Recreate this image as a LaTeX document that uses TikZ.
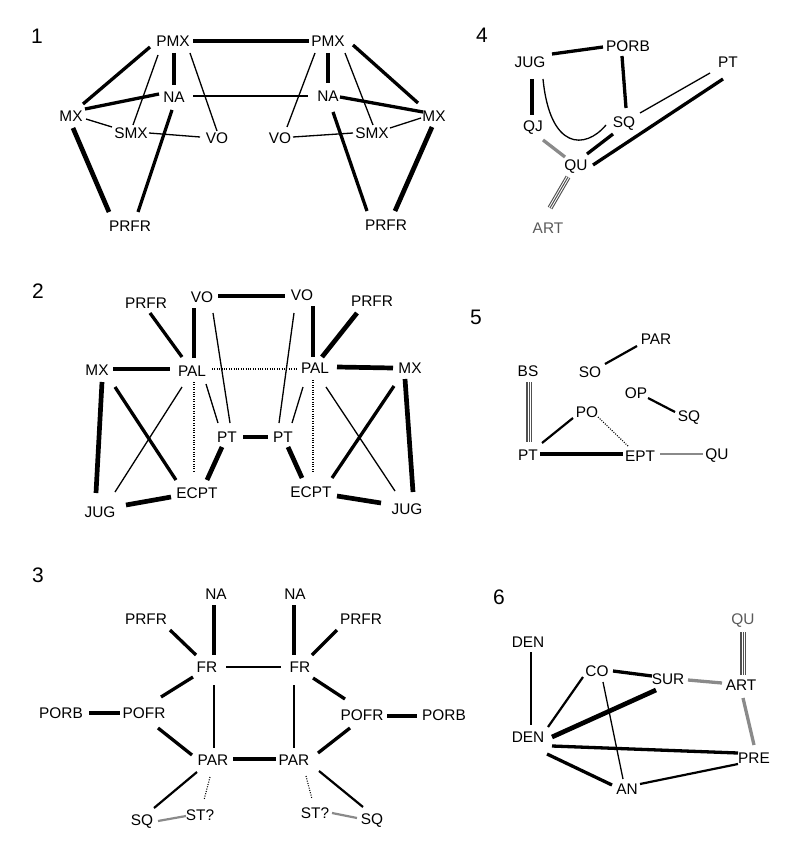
\documentclass[tikz,border=0pt]{standalone}
\usepackage{fontspec}
\setmainfont{Liberation Sans}
\definecolor{edgegray}{HTML}{8A8A8A}
\definecolor{trigray}{HTML}{505050}
\definecolor{txtgray}{HTML}{5A5A5A}
\tikzset{
  lbl/.style={inner sep=3pt, font=\fontsize{15.4}{18}\selectfont},
  num/.style={inner sep=0pt, font=\fontsize{21}{25}\selectfont},
  thin/.style={line width=1.3pt},
  med/.style={line width=2.2pt},
  thick/.style={line width=3.3pt},
  vthick/.style={line width=4.7pt},
  dots/.style={line width=1.1pt, dash pattern=on 1pt off 1.4pt},
  grayline/.style={draw=edgegray, line width=3.3pt},
  graymed/.style={draw=edgegray, line width=2.2pt},
  graythin/.style={draw=edgegray, line width=1.3pt},
  triple/.style={draw=trigray, line width=5.2pt,
    postaction={draw=white, line width=3pt},
    postaction={draw=trigray, line width=1pt}},
}
\begin{document}
\begin{tikzpicture}[x=1pt,y=-1pt]
\useasboundingbox (0,0) rectangle (800,861);
% ---------------- Panel 1
\node[num] (n1) at (37,36) {1};
\node[lbl] (a-pmx1) at (173,41) {PMX};
\node[lbl] (a-pmx2) at (328,41) {PMX};
\node[lbl] (a-na1) at (174,97) {NA};
\node[lbl] (a-na2) at (328,96) {NA};
\node[lbl] (a-mx1) at (71,116) {MX};
\node[lbl] (a-mx2) at (434,116) {MX};
\node[lbl] (a-smx1) at (131,133) {SMX};
\node[lbl] (a-smx2) at (372,133) {SMX};
\node[lbl] (a-vo1) at (217,138) {VO};
\node[lbl] (a-vo2) at (280,138) {VO};
\node[lbl] (a-prfr1) at (130,226) {PRFR};
\node[lbl] (a-prfr2) at (386,225) {PRFR};
\draw[thick] ([shift={(20,0)}]a-pmx1.center) -- ([shift={(-19,0)}]a-pmx2.center);
\draw[thick] ([shift={(-23,6)}]a-pmx1.center) -- ([shift={(12,-12)}]a-mx1.center);
\draw[thick] ([shift={(1,12)}]a-pmx1.center) -- ([shift={(0,-12)}]a-na1.center);
\draw[thin] ([shift={(-15,14)}]a-pmx1.center) -- ([shift={(2,-8)}]a-smx1.center);
\draw[thin] ([shift={(17,12)}]a-pmx1.center) -- ([shift={(0,-7)}]a-vo1.center);
\draw[thin] ([shift={(19,-1)}]a-na1.center) -- ([shift={(-20,0)}]a-na2.center);
\draw[thick] ([shift={(14,-7)}]a-mx1.center) -- ([shift={(-15,-3)}]a-na1.center);
\draw[thin] ([shift={(15,3)}]a-mx1.center) -- ([shift={(-19,-6)}]a-smx1.center);
\draw[thin] ([shift={(18,0)}]a-smx1.center) -- ([shift={(-17,-1)}]a-vo1.center);
\draw[vthick] ([shift={(2,12)}]a-mx1.center) -- ([shift={(-21,-14)}]a-prfr1.center);
\draw[thick] ([shift={(-2,13)}]a-na1.center) -- ([shift={(8,-14)}]a-prfr1.center);
\draw[thick] ([shift={(25,4)}]a-pmx2.center) -- ([shift={(-16,-13)}]a-mx2.center);
\draw[thick] ([shift={(0,12)}]a-pmx2.center) -- ([shift={(0,-13)}]a-na2.center);
\draw[thin] ([shift={(-13,12)}]a-pmx2.center) -- ([shift={(7,-11)}]a-vo2.center);
\draw[thin] ([shift={(17,12)}]a-pmx2.center) -- ([shift={(1,-8)}]a-smx2.center);
\draw[thick] ([shift={(12,1)}]a-na2.center) -- ([shift={(-11,-4)}]a-mx2.center);
\draw[thin] ([shift={(-13,2)}]a-mx2.center) -- ([shift={(18,-5)}]a-smx2.center);
\draw[thin] ([shift={(-19,0)}]a-smx2.center) -- ([shift={(13,-1)}]a-vo2.center);
\draw[thick] ([shift={(5,16)}]a-na2.center) -- ([shift={(-19,-14)}]a-prfr2.center);
\draw[vthick] ([shift={(-2,11)}]a-mx2.center) -- ([shift={(9,-14)}]a-prfr2.center);
% ---------------- Panel 4
\node[num] (n4) at (482,35) {4};
\node[lbl] (d-porb) at (628,46) {PORB};
\node[lbl] (d-jug) at (530,62) {JUG};
\node[lbl] (d-pt) at (728,62) {PT};
\node[lbl] (d-qj) at (533,128) {QJ};
\node[lbl] (d-sq) at (624,124) {SQ};
\node[lbl] (d-qu) at (576,167) {QU};
\node[lbl, text=txtgray] (d-art) at (548,228) {ART};
\draw[thick] ([shift={(22,-8)}]d-jug.center) -- ([shift={(-25,1)}]d-porb.center);
\draw[thick] ([shift={(-6,10)}]d-porb.center) -- ([shift={(2,-16)}]d-sq.center);
\draw[thick] ([shift={(2,17)}]d-jug.center) -- ([shift={(-1,-13)}]d-qj.center);
\draw[thin] ([shift={(13,17)}]d-jug.center) .. controls (550,150) and (585,150) .. ([shift={(-18,1)}]d-sq.center);
\draw[grayline] ([shift={(10,12)}]d-qj.center) -- ([shift={(-11,-10)}]d-qu.center);
\draw[thick] ([shift={(-11,10)}]d-sq.center) -- ([shift={(11,-13)}]d-qu.center);
\draw[thin] ([shift={(16,-11)}]d-sq.center) -- ([shift={(-18,11)}]d-pt.center);
\draw[thick] ([shift={(17,-2)}]d-qu.center) -- ([shift={(-5,17)}]d-pt.center);
\draw[triple] ([shift={(-8,10)}]d-qu.center) -- ([shift={(2,-20)}]d-art.center);
% ---------------- Panel 2
\node[num] (n2) at (38,291) {2};
\node[lbl] (b-vo1) at (202,297) {VO};
\node[lbl] (b-vo2) at (302,295) {VO};
\node[lbl] (b-prfr1) at (146,303) {PRFR};
\node[lbl] (b-prfr2) at (372,301) {PRFR};
\node[lbl] (b-mx1) at (97,370) {MX};
\node[lbl] (b-pal1) at (192,371) {PAL};
\node[lbl] (b-pal2) at (315,368) {PAL};
\node[lbl] (b-mx2) at (410,368) {MX};
\node[lbl] (b-pt1) at (227,437) {PT};
\node[lbl] (b-pt2) at (283,437) {PT};
\node[lbl] (b-ecpt1) at (197,493) {ECPT};
\node[lbl] (b-ecpt2) at (311,492) {ECPT};
\node[lbl] (b-jug1) at (100,512) {JUG};
\node[lbl] (b-jug2) at (407,509) {JUG};
\draw[thick] ([shift={(16,-1)}]b-vo1.center) -- ([shift={(-17,1)}]b-vo2.center);
\draw[thick] ([shift={(4,10)}]b-prfr1.center) -- ([shift={(-10,-14)}]b-pal1.center);
\draw[thick] ([shift={(-8,11)}]b-vo1.center) -- ([shift={(2,-13)}]b-pal1.center);
\draw[vthick] ([shift={(16,-1)}]b-mx1.center) -- ([shift={(-22,-2)}]b-pal1.center);
\draw[dots] ([shift={(20,-2)}]b-pal1.center) -- ([shift={(-17,1)}]b-pal2.center);
\draw[dots] ([shift={(2,11)}]b-pal1.center) -- ([shift={(-3,-20)}]b-ecpt1.center);
\draw[thin] ([shift={(14,13)}]b-pal1.center) -- ([shift={(-9,-14)}]b-pt1.center);
\draw[thin] ([shift={(11,16)}]b-vo1.center) -- ([shift={(3,-14)}]b-pt1.center);
\draw[vthick] ([shift={(5,12)}]b-mx1.center) -- ([shift={(-4,-19)}]b-jug1.center);
\draw[thick] ([shift={(18,17)}]b-mx1.center) -- ([shift={(-21,-13)}]b-ecpt1.center);
\draw[thin] ([shift={(-10,16)}]b-pal1.center) -- ([shift={(15,-20)}]b-jug1.center);
\draw[vthick] ([shift={(26,-7)}]b-jug1.center) -- ([shift={(-26,4)}]b-ecpt1.center);
\draw[vthick] ([shift={(-5,10)}]b-pt1.center) -- ([shift={(10,-13)}]b-ecpt1.center);
\draw[thick] ([shift={(16,0)}]b-pt1.center) -- ([shift={(-15,0)}]b-pt2.center);
\draw[thick] ([shift={(11,11)}]b-vo2.center) -- ([shift={(-2,-11)}]b-pal2.center);
\draw[vthick] ([shift={(-15,12)}]b-prfr2.center) -- ([shift={(7,-11)}]b-pal2.center);
\draw[thin] ([shift={(-8,18)}]b-vo2.center) -- ([shift={(-4,-14)}]b-pt2.center);
\draw[thin] ([shift={(-12,19)}]b-pal2.center) -- ([shift={(9,-14)}]b-pt2.center);
\draw[dots] ([shift={(-2,12)}]b-pal2.center) -- ([shift={(2,-20)}]b-ecpt2.center);
\draw[vthick] ([shift={(22,-1)}]b-pal2.center) -- ([shift={(-17,0)}]b-mx2.center);
\draw[vthick] ([shift={(-5,11)}]b-mx2.center) -- ([shift={(6,-17)}]b-jug2.center);
\draw[thick] ([shift={(-16,18)}]b-mx2.center) -- ([shift={(21,-14)}]b-ecpt2.center);
\draw[thin] ([shift={(11,19)}]b-pal2.center) -- ([shift={(-12,-18)}]b-jug2.center);
\draw[vthick] ([shift={(5,10)}]b-pt2.center) -- ([shift={(-9,-14)}]b-ecpt2.center);
\draw[vthick] ([shift={(26,4)}]b-ecpt2.center) -- ([shift={(-26,-6)}]b-jug2.center);
% ---------------- Panel 5
\node[num] (n5) at (476,317) {5};
\node[lbl] (e-par) at (656,339) {PAR};
\node[lbl] (e-so) at (590,372) {SO};
\node[lbl] (e-bs) at (528,371) {BS};
\node[lbl] (e-op) at (636,393) {OP};
\node[lbl] (e-sq) at (689,418) {SQ};
\node[lbl] (e-po) at (587,412) {PO};
\node[lbl] (e-pt) at (528,455) {PT};
\node[lbl] (e-ept) at (640,456) {EPT};
\node[lbl] (e-qu) at (717,456) {QU};
\draw[med] ([shift={(15,-8)}]e-so.center) -- ([shift={(-19,7)}]e-par.center);
\draw[med] ([shift={(12,5)}]e-op.center) -- ([shift={(-14,-6)}]e-sq.center);
\draw[triple] ([shift={(1,11)}]e-bs.center) -- ([shift={(1,-13)}]e-pt.center);
\draw[med] ([shift={(14,-12)}]e-pt.center) -- ([shift={(-14,6)}]e-po.center);
\draw[dots] ([shift={(11,5)}]e-po.center) -- ([shift={(-12,-10)}]e-ept.center);
\draw[thick] ([shift={(12,-1)}]e-pt.center) -- ([shift={(-17,-2)}]e-ept.center);
\draw[graythin] ([shift={(20,-2)}]e-ept.center) -- ([shift={(-14,-2)}]e-qu.center);
% ---------------- Panel 3
\node[num] (n3) at (38,575) {3};
\node[lbl] (c-na1) at (216,594) {NA};
\node[lbl] (c-na2) at (295,594) {NA};
\node[lbl] (c-prfr1) at (146,619) {PRFR};
\node[lbl] (c-prfr2) at (361,619) {PRFR};
\node[lbl] (c-fr1) at (207,667) {FR};
\node[lbl] (c-fr2) at (300,667) {FR};
\node[lbl] (c-porb1) at (61,713) {PORB};
\node[lbl] (c-pofr1) at (144,713) {POFR};
\node[lbl] (c-pofr2) at (362,715) {POFR};
\node[lbl] (c-porb2) at (444,715) {PORB};
\node[lbl] (c-par1) at (213,760) {PAR};
\node[lbl] (c-par2) at (294,760) {PAR};
\node[lbl] (c-sq1) at (142,822) {SQ};
\node[lbl] (c-st1) at (200,815) {ST?};
\node[lbl] (c-st2) at (315,813) {ST?};
\node[lbl] (c-sq2) at (372,821) {SQ};
\draw[thick] ([shift={(-2,11)}]c-na1.center) -- ([shift={(7,-12)}]c-fr1.center);
\draw[thick] ([shift={(-1,11)}]c-na2.center) -- ([shift={(-6,-12)}]c-fr2.center);
\draw[thick] ([shift={(24,11)}]c-prfr1.center) -- ([shift={(-11,-12)}]c-fr1.center);
\draw[thick] ([shift={(-24,11)}]c-prfr2.center) -- ([shift={(12,-12)}]c-fr2.center);
\draw[med] ([shift={(19,0)}]c-fr1.center) -- ([shift={(-19,0)}]c-fr2.center);
\draw[thick] ([shift={(-14,10)}]c-fr1.center) -- ([shift={(17,-16)}]c-pofr1.center);
\draw[thick] ([shift={(13,11)}]c-fr2.center) -- ([shift={(-17,-16)}]c-pofr2.center);
\draw[vthick] ([shift={(28,0)}]c-porb1.center) -- ([shift={(-24,0)}]c-pofr1.center);
\draw[vthick] ([shift={(25,1)}]c-pofr2.center) -- ([shift={(-27,1)}]c-porb2.center);
\draw[med] ([shift={(7,18)}]c-fr1.center) -- ([shift={(1,-12)}]c-par1.center);
\draw[med] ([shift={(-6,18)}]c-fr2.center) -- ([shift={(0,-12)}]c-par2.center);
\draw[thick] ([shift={(14,15)}]c-pofr1.center) -- ([shift={(-21,-5)}]c-par1.center);
\draw[thick] ([shift={(-12,13)}]c-pofr2.center) -- ([shift={(24,-7)}]c-par2.center);
\draw[vthick] ([shift={(20,-1)}]c-par1.center) -- ([shift={(-18,-1)}]c-par2.center);
\draw[med] ([shift={(-16,12)}]c-par1.center) -- ([shift={(12,-14)}]c-sq1.center);
\draw[med] ([shift={(25,11)}]c-par2.center) -- ([shift={(-9,-14)}]c-sq2.center);
\draw[dots] ([shift={(-3,17)}]c-par1.center) -- ([shift={(4,-15)}]c-st1.center);
\draw[dots] ([shift={(12,16)}]c-par2.center) -- ([shift={(-3,-14)}]c-st2.center);
\draw[graymed] ([shift={(16,-1)}]c-sq1.center) -- ([shift={(-14,1)}]c-st1.center);
\draw[graymed] ([shift={(17,0)}]c-st2.center) -- ([shift={(-15,-3)}]c-sq2.center);
% ---------------- Panel 6
\node[num] (n6) at (499,597) {6};
\node[lbl, text=txtgray] (f-qu) at (743,621) {QU};
\node[lbl] (f-den1) at (528,642) {DEN};
\node[lbl] (f-co) at (597,671) {CO};
\node[lbl] (f-sur) at (668,679) {SUR};
\node[lbl] (f-art) at (741,685) {ART};
\node[lbl] (f-den2) at (528,737) {DEN};
\node[lbl] (f-pre) at (754,758) {PRE};
\node[lbl] (f-an) at (627,789) {AN};
\draw[med] ([shift={(3,10)}]f-den1.center) -- ([shift={(3,-12)}]f-den2.center);
\draw[med] ([shift={(20,-10)}]f-den2.center) -- ([shift={(-14,6)}]f-co.center);
\draw[thick] ([shift={(16,0)}]f-co.center) -- ([shift={(-16,-3)}]f-sur.center);
\draw[grayline] ([shift={(20,1)}]f-sur.center) -- ([shift={(-19,-2)}]f-art.center);
\draw[triple] ([shift={(0,11)}]f-qu.center) -- ([shift={(2,-10)}]f-art.center);
\draw[grayline] ([shift={(2,13)}]f-art.center) -- ([shift={(0,-13)}]f-pre.center);
\draw[vthick] ([shift={(24,0)}]f-den2.center) -- ([shift={(-12,11)}]f-sur.center);
\draw[thin] ([shift={(6,11)}]f-co.center) -- ([shift={(-4,-10)}]f-an.center);
\draw[thick] ([shift={(24,9)}]f-den2.center) -- ([shift={(-16,-5)}]f-pre.center);
\draw[thick] ([shift={(19,17)}]f-den2.center) -- ([shift={(-15,-4)}]f-an.center);
\draw[med] ([shift={(13,-5)}]f-an.center) -- ([shift={(-16,6)}]f-pre.center);
\end{tikzpicture}
\end{document}
